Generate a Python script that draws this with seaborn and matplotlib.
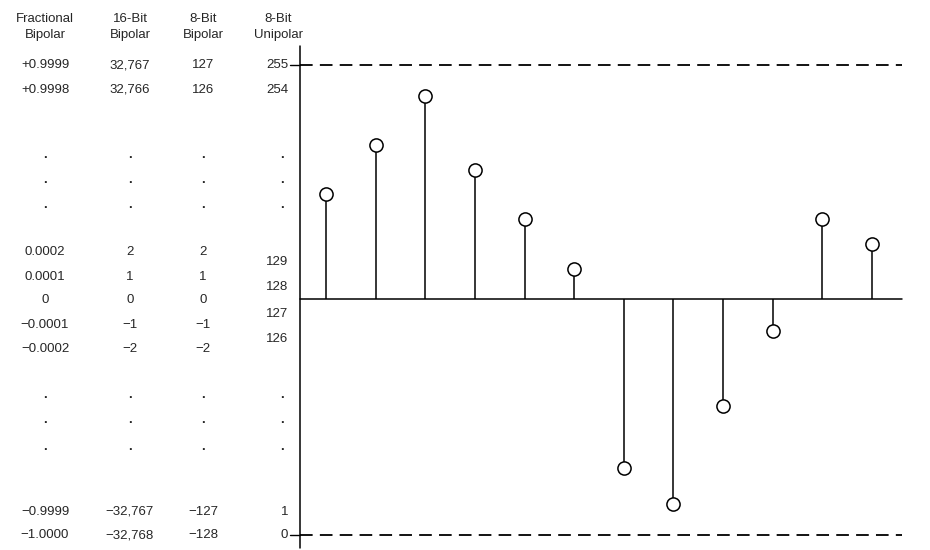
import matplotlib
matplotlib.use("Agg")
import matplotlib.pyplot as plt
import matplotlib.transforms as mtransforms
import numpy as np
import pandas as pd
import seaborn as sns

# sample index and stem heights (schematic units, 0 = midscale)
samples = list(range(1, 13))
heights = [105, 154, 203, 129, 80, 30, -169, -205, -107, -32, 80, 55]
full_pos, full_neg = 234, -236

# tick label rows: (height, fractional, 16-bit, 8-bit bipolar, 8-bit unipolar)
rows = [
    (234, "+0.9999", "32,767", "127", "255"),
    (209, "+0.9998", "32,766", "126", "254"),
    (144, ".", ".", ".", "."),
    (119, ".", ".", ".", "."),
    (94, ".", ".", ".", "."),
    (47, "0.0002", "2", "2", ""),
    (22, "0.0001", "1", "1", ""),
    (-1, "0", "0", "0", ""),
    (-26, "\u22120.0001", "\u22121", "\u22121", ""),
    (-50, "\u22120.0002", "\u22122", "\u22122", ""),
    (-96, ".", ".", ".", "."),
    (-121, ".", ".", ".", "."),
    (-148, ".", ".", ".", "."),
    (-213, "\u22120.9999", "\u221232,767", "\u2212127", "1"),
    (-236, "\u22121.0000", "\u221232,768", "\u2212128", "0"),
]
unipolar_mid = [(37, "129"), (12, "128"), (-15, "127"), (-40, "126")]
headers = ["Fractional\nBipolar", "16-Bit\nBipolar", "8-Bit\nBipolar", "8-Bit\nUnipolar"]

sns.set_style("white")
plt.rcParams["font.family"] = ["Liberation Sans", "DejaVu Sans"]

fig = plt.figure(figsize=(9.3, 5.5), dpi=100)
ax = fig.add_axes([0, 0, 1, 1])
ax.set_xlim(-5.57, 13.17)
ax.set_ylim(-251, 299)
ax.axis("off")

df = pd.DataFrame({"n": samples, "v": heights})
ax.vlines(df["n"], 0, df["v"], color="black", lw=1.1)
sns.scatterplot(data=df, x="n", y="v", ax=ax, s=90, facecolor="white",
                edgecolor="black", linewidth=1.1, zorder=3, legend=False)

x0 = (300 - 276.4) / 49.64
ax.plot([x0, 12.6], [0, 0], color="black", lw=1.1)
ax.plot([x0, x0], [full_pos + 19, -249], color="black", lw=1.1)
for v in (full_pos, full_neg):
    ax.plot([x0, 12.6], [v, v], color="black", lw=1.3, ls=(0, (7, 4)))
    ax.plot([x0 - 0.2, x0], [v, v], color="black", lw=1)

tr = mtransforms.blended_transform_factory(fig.transFigure, ax.transData)
fs = 9.5
col_x = [45 / 930, 130 / 930, 203 / 930, 288 / 930]
for i, h in enumerate(headers):
    ax.text(col_x[i] if i < 3 else 278 / 930, 272, h, transform=tr,
            ha="center", va="center", fontsize=fs, linespacing=1.35)
for h, a, b, c, d in rows:
    for i, t in enumerate([a, b, c]):
        ax.text(col_x[i], h, t, transform=tr, ha="center", va="center",
                fontsize=fs, fontweight="bold" if t == "." else "normal")
    if d:
        ax.text(col_x[3] - (0.004 if d == "." else 0), h, d, transform=tr,
                ha="right", va="center", fontsize=fs,
                fontweight="bold" if d == "." else "normal")
for h, t in unipolar_mid:
    ax.text(col_x[3], h, t, transform=tr, ha="right", va="center", fontsize=fs)

fig.savefig("out.png", dpi=100)
